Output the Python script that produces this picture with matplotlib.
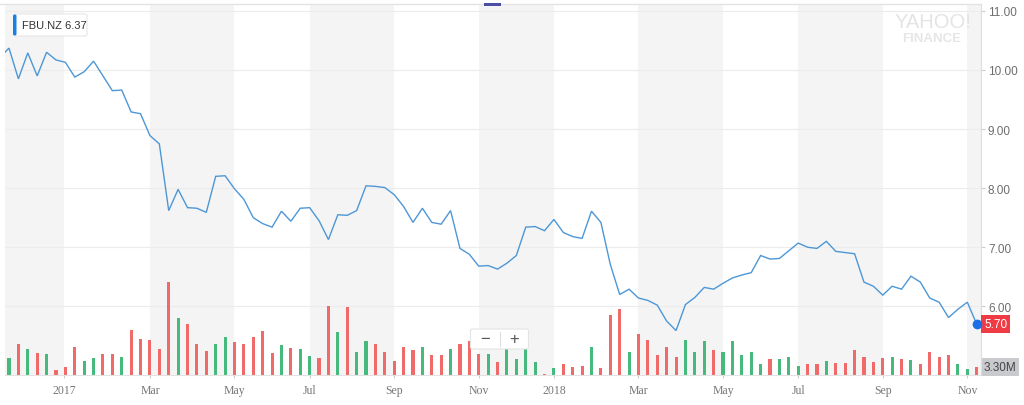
import numpy as np
import pandas as pd
import matplotlib
matplotlib.use("Agg")
import matplotlib.pyplot as plt
import matplotlib.transforms as mtransforms
from matplotlib.patches import FancyBboxPatch, Rectangle
from matplotlib.lines import Line2D

plt.rcParams['font.family'] = ['Liberation Sans', 'DejaVu Sans']

# ---------------- data ----------------
ticker = "FBU.NZ"
legend_value = "6.37"
start_date = "2016-11-14"  # weekly closes (first point lies just left of the view)

price = [10.21,
         10.37, 9.85, 10.29, 9.90, 10.30, 10.17, 10.13, 9.88, 9.97, 10.15,
         9.90, 9.65, 9.66, 9.29, 9.26, 8.89, 8.75, 7.62, 7.98, 7.67,
         7.66, 7.59, 8.20, 8.21, 7.99, 7.81, 7.50, 7.40, 7.34, 7.61,
         7.44, 7.66, 7.67, 7.45, 7.13, 7.55, 7.54, 7.62, 8.04, 8.03,
         8.01, 7.89, 7.69, 7.42, 7.66, 7.42, 7.39, 7.62, 6.98, 6.88,
         6.68, 6.69, 6.63, 6.73, 6.86, 7.34, 7.35, 7.28, 7.47, 7.25,
         7.18, 7.15, 7.61, 7.42, 6.71, 6.20, 6.29, 6.14, 6.10, 6.02,
         5.75, 5.59, 6.03, 6.15, 6.32, 6.29, 6.39, 6.48, 6.53, 6.57,
         6.86, 6.80, 6.81, 6.94, 7.07, 7.00, 6.98, 7.10, 6.93, 6.91,
         6.89, 6.41, 6.34, 6.19, 6.34, 6.29, 6.51, 6.41, 6.14, 6.07,
         5.81, 5.95, 6.07, 5.70]

volume_m = [8.0,
            6.9, 12.9, 10.8, 9.3, 8.6, 1.9, 3.3, 11.9, 5.9, 7.0,
            8.9, 8.9, 7.7, 18.9, 15.2, 14.8, 11.0, 39.6, 24.1, 21.5,
            12.9, 10.0, 12.9, 16.1, 13.8, 12.9, 16.1, 18.6, 9.2, 12.6,
            11.5, 10.8, 8.0, 6.9, 29.2, 18.4, 28.8, 9.6, 14.3, 13.3,
            9.6, 6.0, 11.7, 10.3, 11.7, 8.5, 8.5, 10.8, 13.3, 14.5,
            8.6, 8.6, 5.4, 12.0, 6.5, 10.8, 5.2, 0.4, 3.0, 4.3,
            3.3, 3.6, 11.7, 2.9, 25.5, 28.0, 9.6, 17.5, 14.8, 8.5,
            11.9, 7.7, 14.9, 9.5, 14.5, 10.5, 9.7, 14.5, 8.3, 9.7,
            4.4, 6.6, 6.6, 7.5, 3.7, 4.4, 4.4, 5.7, 4.9, 4.9,
            10.5, 7.7, 5.2, 7.2, 7.5, 6.6, 6.3, 4.6, 9.5, 7.5,
            8.3, 4.4, 2.3, 3.3]

tick_dates = ["2017-01-01", "2017-03-06", "2017-05-08", "2017-07-03",
              "2017-09-04", "2017-11-06", "2018-01-01", "2018-03-05",
              "2018-05-07", "2018-07-02", "2018-09-03", "2018-11-05"]
tick_labels = ["2017", "Mar", "May", "Jul", "Sep", "Nov",
               "2018", "Mar", "May", "Jul", "Sep", "Nov"]
price_ticks = [6, 7, 8, 9, 10, 11]

# ---------------- figure ----------------
W, H = 1024, 406
fig = plt.figure(figsize=(W / 100, H / 100), dpi=100)
fig.patch.set_facecolor("white")

px = mtransforms.Affine2D().scale(1 / W, -1 / H).translate(0, 1) + fig.transFigure

L, R, T, B = 5, 981, 5, 375.5
rect = [L / W, (H - B) / H, (R - L) / W, (B - T) / H]

dates = pd.date_range(start_date, periods=len(price), freq="7D")
tdates = pd.to_datetime(tick_dates)

axv = fig.add_axes(rect, zorder=0)
axp = fig.add_axes(rect, zorder=1, sharex=axv)
axp.patch.set_visible(False)

x0 = dates[1] - pd.Timedelta(days=2.98)
x1 = dates[-1] + pd.Timedelta(days=3.2)
axv.set_xlim(x0, x1)
axp.set_ylim(4.846, 11.117)
axv.set_ylim(0, 159)

# alternating bands
bounds = [x0] + list(tdates) + [x1]
for i in range(len(bounds) - 1):
    if i % 2 == 0:
        axv.axvspan(bounds[i], bounds[i + 1], color="#f4f4f4", lw=0, zorder=0)

# price gridlines (drawn behind volume bars)
gtrans = mtransforms.blended_transform_factory(axv.transAxes, axp.transData)
for p in price_ticks:
    axv.add_line(Line2D([0, 1], [p, p], transform=gtrans, color="#ececec",
                        lw=0.8, zorder=0.5))

# volume bars coloured by weekly direction
colors = ["#f06a6a" if (i > 0 and price[i] < price[i - 1]) else "#46b97d"
          for i in range(len(price))]
axv.bar(dates, volume_m, width=2.3, color=colors, lw=0, zorder=2)

# price line
axp.plot(dates, price, color="#4d97d6", lw=1.0, zorder=3, solid_joinstyle="miter")
axp.plot(dates[-1], price[-1], "o", ms=6, color="#1e6fe6", zorder=4, clip_on=False)

# axes styling
for s in ["top", "left", "right"]:
    axv.spines[s].set_visible(False)
axv.spines["bottom"].set_color("#e2e2e2")
axv.set_yticks([])
axv.set_xticks(tdates)
axv.set_xticklabels(tick_labels, fontfamily="Liberation Serif", fontsize=8.5,
                    color="#777777")
axv.tick_params(axis="x", length=2.5, width=0.8, color="#cccccc", pad=4)

for s in ["top", "left", "bottom"]:
    axp.spines[s].set_visible(False)
axp.spines["right"].set_color("#dddddd")
axp.yaxis.tick_right()
axp.set_yticks(price_ticks)
axp.set_yticklabels([f"{p:.2f}" for p in price_ticks], fontsize=8.5, color="#6e6e6e")
axp.tick_params(axis="y", length=3, width=0.8, color="#cccccc", pad=2)
axp.tick_params(axis="x", bottom=False, labelbottom=False)

# last value labels
axp.annotate(f"{price[-1]:.2f}", xy=(1, price[-1]), xycoords=("axes fraction", "data"),
             xytext=(2.2, 0), textcoords="offset points", ha="left", va="center",
             fontsize=8.5, color="white", annotation_clip=False,
             bbox=dict(boxstyle="square,pad=0.22", fc="#ef3b44", ec="none"))
axv.annotate(f"{volume_m[-1]:.2f}M", xy=(1, volume_m[-1]), xycoords=("axes fraction", "data"),
             xytext=(1.8, 0), textcoords="offset points", ha="left", va="center",
             fontsize=8.5, color="#444444", annotation_clip=False,
             bbox=dict(boxstyle="square,pad=0.25", fc="#c9cace", ec="none"))

# top border line and small navy handle
fig.add_artist(Line2D([0, R], [5, 5], transform=px, color="#e3e3e3", lw=1.0, zorder=8))
fig.add_artist(Rectangle((484, 4), 17, 3, transform=px, color="#4b4ea5", lw=0, zorder=10))

# legend box
fig.add_artist(FancyBboxPatch((15, 15), 72, 22, boxstyle="round,pad=0,rounding_size=2",
                              transform=px, fc="white", ec="#e6e6e6", lw=0.8, zorder=5))
fig.add_artist(FancyBboxPatch((13, 15.5), 3.5, 21, boxstyle="round,pad=0,rounding_size=1.5",
                              transform=px, fc="#1a7fe0", ec="none", zorder=6))
fig.text(22 / W, 1 - 26 / H, f"{ticker} {legend_value}", fontsize=8, color="#333333",
         ha="left", va="center", zorder=7)

# watermark
fig.text(933 / W, 1 - 22 / H, "YAHOO!", fontsize=14.5, color="#e4e4e4",
         ha="center", va="center")
fig.text(932 / W, 1 - 38.5 / H, "FINANCE", fontsize=9.5, fontweight="bold",
         color="#e6e6e6", ha="center", va="center")

# zoom control
fig.add_artist(FancyBboxPatch((470.5, 330), 58, 20, boxstyle="round,pad=0,rounding_size=2",
                              transform=px, fc="white", ec="#e4e4e4", lw=0.8, zorder=5))
fig.add_artist(Line2D([499.5, 499.5], [333, 347], transform=px, color="#dddddd",
                      lw=0.8, zorder=6))
fig.text(485 / W, 1 - 340 / H, "\u2212", fontsize=12, color="#555555",
         ha="center", va="center", zorder=7)
fig.text(514 / W, 1 - 340 / H, "+", fontsize=12, color="#555555",
         ha="center", va="center", zorder=7)

fig.savefig("out.png", dpi=100, facecolor="white")
